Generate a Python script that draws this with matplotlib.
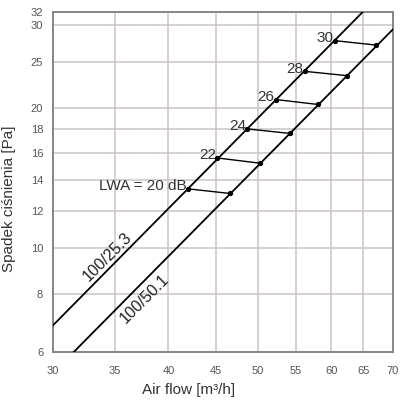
import numpy as np
import matplotlib
matplotlib.use("Agg")
import matplotlib.pyplot as plt
from matplotlib.ticker import FixedLocator, NullLocator, FixedFormatter

plt.rcParams['font.family'] = ['Liberation Sans', 'DejaVu Sans']

# characteristic lines (straight on log-log), end points
line1_name = "100/25.3"
line1_flow = [30.0, 64.9]
line1_dp = [6.84, 32.0]
line2_name = "100/50.1"
line2_flow = [31.6, 70.0]
line2_dp = [6.0, 29.4]

# sound power markers
lwa_levels = [20, 22, 24, 26, 28, 30]
lwa_flow_a = [42.0, 45.2, 48.7, 52.3, 56.2, 60.6]
lwa_dp_a = [13.4, 15.6, 18.0, 20.8, 23.9, 27.8]
lwa_flow_b = [46.6, 50.3, 54.2, 58.1, 62.4, 67.1]
lwa_dp_b = [13.1, 15.2, 17.6, 20.3, 23.4, 27.2]

x_ticks = [30, 35, 40, 45, 50, 55, 60, 65, 70]
y_ticks = [6, 8, 10, 12, 14, 16, 18, 20, 25, 30, 32]

fig = plt.figure(figsize=(4.01, 4.03), dpi=100)
ax = fig.add_axes([0.132, 0.1266, 0.848, 0.8434])
ax.set_xscale('log')
ax.set_yscale('log')
ax.set_xlim(30, 70)
ax.set_ylim(6, 32)

ax.xaxis.set_major_locator(FixedLocator(x_ticks))
ax.xaxis.set_major_formatter(FixedFormatter([str(v) for v in x_ticks]))
ax.xaxis.set_minor_locator(NullLocator())
ax.yaxis.set_major_locator(FixedLocator(y_ticks))
ax.yaxis.set_major_formatter(FixedFormatter([str(v) for v in y_ticks]))
ax.yaxis.set_minor_locator(NullLocator())

ax.tick_params(length=0, labelsize=8, colors='#555555')
ax.tick_params(axis='x', pad=10)
ax.tick_params(axis='y', pad=7)

ax.grid(True, color='#cbc3c3', lw=1.1)
for s in ax.spines.values():
    s.set_color('#8a8484')
    s.set_linewidth(1.4)

ax.plot(line1_flow, line1_dp, color='black', lw=1.3, zorder=3)
ax.plot(line2_flow, line2_dp, color='black', lw=1.3, zorder=3)

for i, lv in enumerate(lwa_levels):
    ax.plot([lwa_flow_a[i], lwa_flow_b[i]], [lwa_dp_a[i], lwa_dp_b[i]],
            color='black', lw=1.0, marker='o', ms=2.8, zorder=4)
    txt = "LWA = %d dB" % lv if i == 0 else str(lv)
    ax.annotate(txt, (lwa_flow_a[i], lwa_dp_a[i]), xytext=(-1, 2),
                textcoords='offset points', ha='right', va='center',
                fontsize=11, color='#333333')

ax.text(0.16, 0.28, line1_name, transform=ax.transAxes, rotation=45,
        ha='center', va='center', fontsize=11.5, color='#222222')
ax.text(0.27, 0.155, line2_name, transform=ax.transAxes, rotation=45,
        ha='center', va='center', fontsize=11.5, color='#222222')

ax.set_xlabel("Air flow [m³/h]", fontsize=11, color='#333333')
ax.xaxis.set_label_coords(0.40, -0.09)
ax.set_ylabel("Spadek ciśnienia [Pa]", fontsize=11, color='#333333')
ax.yaxis.set_label_coords(-0.11, 0.45)

fig.savefig("out.png", dpi=100)
